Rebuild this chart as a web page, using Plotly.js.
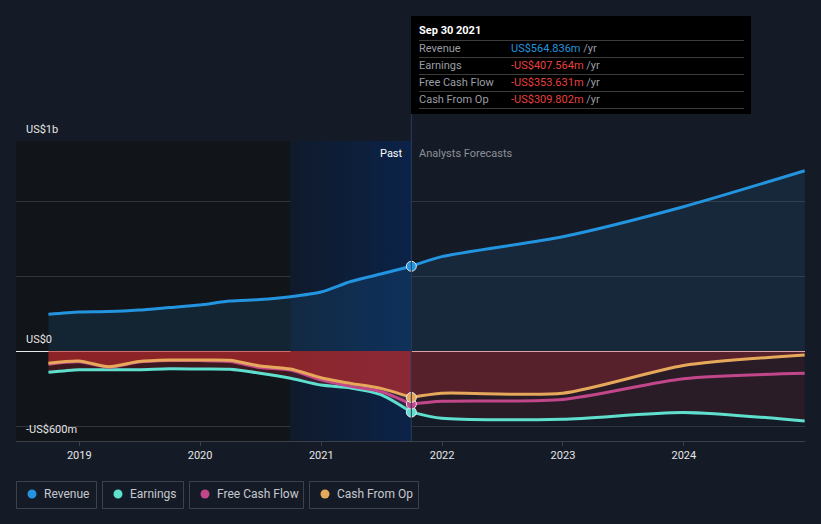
<!DOCTYPE html>
<html>
<head>
<meta charset="utf-8">
<script src="https://cdn.plot.ly/plotly-3.0.1.min.js"></script>
<style>
html,body{margin:0;padding:0;background:#151b26;}
#chart{width:821px;height:524px;}
</style>
</head>
<body>
<div id="chart"></div>
<script>
// ---- data (US$ millions) ----
const pastDates = ['2018-09-30','2018-12-31','2019-03-31','2019-06-30','2019-09-30','2019-12-31','2020-03-31','2020-06-30','2020-09-30','2020-12-31','2021-03-31','2021-06-30','2021-09-30'];
const revenuePast  = [245, 260, 263, 273, 290, 307, 333, 343, 362, 393, 463, 513, 564.836];
const earningsPast = [-142, -125, -125, -125, -118, -120, -122, -148, -182, -227, -246, -291, -407.564];
const fcfPast      = [-88, -72, -108, -74, -64, -64, -70, -110, -127, -192, -236, -270, -353.631];
const cfoPast      = [-82, -67, -105, -70, -60, -60, -62, -100, -120, -178, -216, -249, -309.802];

const foreDates = ['2021-09-30','2021-12-31','2022-12-31','2023-12-31','2024-12-31'];
const revenueFore  = [564.836, 629, 762, 962, 1202];
const earningsFore = [-407.564, -449, -455, -410, -467];
const fcfFore      = [-353.631, -335, -323, -185, -149];
const cfoFore      = [-309.802, -282, -282, -97, -27];

const seriesNames = ['Revenue', 'Earnings', 'Free Cash Flow', 'Cash From Op'];
const seriesColors = ['#2394df', '#5fe0cf', '#c2468a', '#e6a85a'];
const xTickVals = ['2019-01-01','2020-01-01','2021-01-01','2022-01-01','2023-01-01','2024-01-01'];
const xTickText = ['2019','2020','2021','2022','2023','2024'];
const yTickVals = [-500, 0, 500, 1000, 1400];
const yLabels = [{v: 1400, t: 'US$1b'}, {v: 0, t: 'US$0'}, {v: -600, t: '-US$600m'}];
const tooltipDate = 'Sep 30 2021';
const xRange = ['2018-06-24', '2025-01-01'];
const highlightStart = '2020-09-30';
const yRange = [-600, 1400];

// ---- layout helpers (pixel -> paper) ----
const W = 821, H = 524, ML = 16, MR = 16, MT = 141, MB = 83;
const PW = W - ML - MR, PH = H - MT - MB;
const px = x => (x - ML) / PW;
const py = y => (H - MB - y) / PH;

const bg = '#151b26';
const font = 'Roboto, "Open Sans", sans-serif';
const last = a => a[a.length - 1];
const smooth = 0.7;

const traces = [];

// past-year highlight (gradient)
traces.push({
  x: [highlightStart, last(pastDates), last(pastDates), highlightStart],
  y: [yRange[0], yRange[0], yRange[1], yRange[1]],
  mode: 'lines', line: {width: 0}, fill: 'toself',
  fillgradient: {type: 'horizontal', colorscale: [[0, 'rgba(15,26,43,1)'], [1, 'rgba(11,35,72,1)']]},
  hoverinfo: 'skip', showlegend: false
});

function fillTrace(x, y, color) {
  return {x, y, mode: 'lines', line: {width: 0, shape: 'spline', smoothing: smooth},
    fill: 'tozeroy', fillcolor: color, hoverinfo: 'skip', showlegend: false};
}
// fills
traces.push(fillTrace(pastDates, revenuePast, 'rgba(35,148,223,0.13)'));
traces.push(fillTrace(foreDates, revenueFore, 'rgba(35,148,223,0.11)'));
traces.push(fillTrace(pastDates, earningsPast, 'rgba(200,45,50,0.23)'));
traces.push(fillTrace(foreDates, earningsFore, 'rgba(200,45,50,0.12)'));
traces.push(fillTrace(pastDates, cfoPast, 'rgba(200,45,45,0.58)'));
traces.push(fillTrace(foreDates, cfoFore, 'rgba(200,45,50,0.28)'));

// lines
const pastSets = [revenuePast, earningsPast, fcfPast, cfoPast];
const foreSets = [revenueFore, earningsFore, fcfFore, cfoFore];
const order = [1, 2, 3, 0];
order.forEach(i => {
  traces.push({x: pastDates, y: pastSets[i], mode: 'lines',
    line: {color: seriesColors[i], width: 3, shape: 'spline', smoothing: smooth},
    hoverinfo: 'skip', showlegend: false});
  traces.push({x: foreDates, y: foreSets[i], mode: 'lines',
    line: {color: seriesColors[i], width: 3, shape: 'spline', smoothing: smooth},
    hoverinfo: 'skip', showlegend: false});
});
// markers at last reported point
traces.push({
  x: pastSets.map(() => last(pastDates)),
  y: pastSets.map(s => last(s)),
  mode: 'markers',
  marker: {size: 10, color: seriesColors, line: {color: '#e8e8e8', width: 1}},
  hoverinfo: 'skip', showlegend: false
});

const shapes = [
  // dark past region
  {type: 'rect', xref: 'x', yref: 'paper', x0: xRange[0], x1: highlightStart, y0: 0, y1: 1,
   fillcolor: '#111419', line: {width: 0}, layer: 'below'},
  // divider line
  {type: 'line', xref: 'x', yref: 'paper', x0: last(pastDates), x1: last(pastDates), y0: 0, y1: py(114),
   line: {color: '#2b3a58', width: 1}},
  // tooltip box
  {type: 'rect', xref: 'paper', yref: 'paper', x0: px(411), x1: px(751), y0: py(114), y1: py(16),
   fillcolor: '#000000', line: {width: 0}}
];
[40.5, 57.5, 74.5, 91.5, 108.5].forEach(yy => shapes.push({
  type: 'line', xref: 'paper', yref: 'paper', x0: px(419), x1: px(744), y0: py(yy), y1: py(yy),
  line: {color: '#3c3c3c', width: 1}
}));

// legend boxes
const legBoxes = [[16, 97], [102, 184], [189, 304], [309, 419]];
const legDots = [32, 118, 205, 325];
const legText = [44, 130, 217, 337];
legBoxes.forEach((b, i) => {
  shapes.push({type: 'rect', xref: 'paper', yref: 'paper', x0: px(b[0] + 0.5), x1: px(b[1] - 0.5),
    y0: py(508.5), y1: py(481.5), line: {color: '#3d424c', width: 1}, fillcolor: 'rgba(0,0,0,0)'});
  shapes.push({type: 'circle', xref: 'paper', yref: 'paper', x0: px(legDots[i] - 4.5), x1: px(legDots[i] + 4.5),
    y0: py(498.5), y1: py(489.5), line: {width: 0}, fillcolor: seriesColors[i]});
});

const annotations = [];
yLabels.forEach(l => annotations.push({
  xref: 'paper', yref: 'y', x: px(24), y: l.v, xanchor: 'left', yanchor: 'bottom', yshift: 3,
  text: l.t, showarrow: false, font: {family: font, size: 11, color: '#e6e6e6'}
}));
annotations.push({xref: 'x', yref: 'paper', x: last(pastDates), y: py(153), xanchor: 'right', yanchor: 'middle',
  xshift: -6, text: 'Past', showarrow: false, font: {family: font, size: 11, color: '#ffffff'}});
annotations.push({xref: 'x', yref: 'paper', x: last(pastDates), y: py(153), xanchor: 'left', yanchor: 'middle',
  xshift: 6, text: 'Analysts Forecasts', showarrow: false, font: {family: font, size: 11, color: '#8c9097'}});

// tooltip text
annotations.push({xref: 'paper', yref: 'paper', x: px(417), y: py(31), xanchor: 'left', yanchor: 'middle',
  text: '<b>' + tooltipDate + '</b>', showarrow: false, font: {family: font, size: 11, color: '#ffffff'}});
const fmt = v => (v < 0 ? '-' : '') + 'US$' + Math.abs(v).toFixed(3) + 'm';
const rowY = [48.5, 65.5, 82.5, 99.5];
seriesNames.forEach((n, i) => {
  annotations.push({xref: 'paper', yref: 'paper', x: px(417), y: py(rowY[i]), xanchor: 'left', yanchor: 'middle',
    text: n, showarrow: false, font: {family: font, size: 11, color: '#9a9ea5'}});
  const v = last(pastSets[i]);
  const c = v < 0 ? '#e8413e' : '#2394df';
  annotations.push({xref: 'paper', yref: 'paper', x: px(509), y: py(rowY[i]), xanchor: 'left', yanchor: 'middle',
    text: '<span style="color:' + c + '">' + fmt(v) + '</span> /yr', showarrow: false,
    font: {family: font, size: 11, color: '#9a9ea5'}});
});
// legend text
seriesNames.forEach((n, i) => annotations.push({
  xref: 'paper', yref: 'paper', x: px(legText[i] - 2), y: py(494.5), xanchor: 'left', yanchor: 'middle',
  text: n, showarrow: false, font: {family: font, size: 12, color: '#c5c9cf'}
}));

const layout = {
  width: W, height: H,
  margin: {l: ML, r: MR, t: MT, b: MB, pad: 0},
  paper_bgcolor: bg, plot_bgcolor: bg,
  showlegend: false,
  font: {family: font, color: '#e6e6e6'},
  xaxis: {type: 'date', range: xRange, showgrid: false, zeroline: false,
    showline: true, linecolor: '#3a3f49', linewidth: 1,
    ticks: 'outside', ticklen: 4, tickcolor: '#3a3f49',
    tickmode: 'array', tickvals: xTickVals, ticktext: xTickText,
    tickfont: {family: font, size: 11, color: '#e6e6e6'}, fixedrange: true},
  yaxis: {range: yRange, tickvals: yTickVals, showticklabels: false,
    showgrid: true, gridcolor: '#30353f', gridwidth: 1,
    zeroline: true, zerolinecolor: '#e8e8e8', zerolinewidth: 1, fixedrange: true},
  shapes, annotations
};

Plotly.newPlot('chart', traces, layout, {displayModeBar: false, staticPlot: true});
</script>
</body>
</html>
